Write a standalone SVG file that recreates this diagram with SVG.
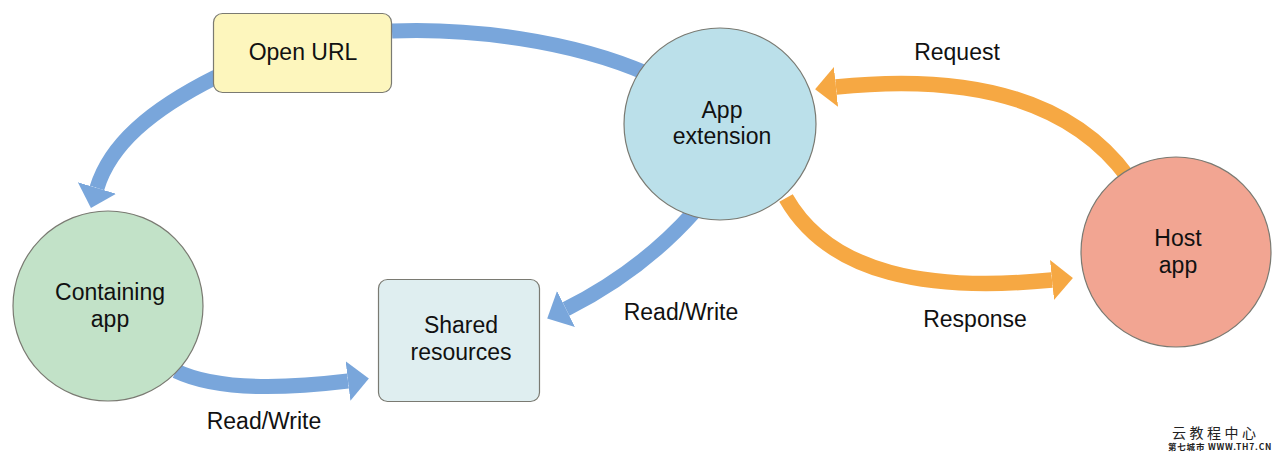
<svg xmlns="http://www.w3.org/2000/svg" width="1284" height="453" viewBox="0 0 1284 453">
<defs>
<style>
.lbl{font-family:"Liberation Sans",Arial,Helvetica,sans-serif;font-size:23px;fill:#111;text-anchor:middle}
.node{stroke:#7a7a72;stroke-width:1.2}
.blue{fill:none;stroke:#79a6db;stroke-width:15}
.orange{fill:none;stroke:#f6a843;stroke-width:15.5}
.wm{font-family:"Noto Sans CJK SC","Liberation Sans",sans-serif;fill:#222}
</style>
<marker id="ab" markerUnits="userSpaceOnUse" markerWidth="22" markerHeight="42" viewBox="0 -21 22 42" refX="0" refY="0" orient="auto">
<path d="M0,-20 L21,0 L0,20 Z" fill="#79a6db"/>
</marker>
<marker id="ao" markerUnits="userSpaceOnUse" markerWidth="22" markerHeight="42" viewBox="0 -21 22 42" refX="0" refY="0" orient="auto">
<path d="M0,-20 L21,0 L0,20 Z" fill="#f6a843"/>
</marker>
</defs>
<rect width="1284" height="453" fill="#ffffff"/>
<g id="connectors">
<path class="blue" d="M392 31 C470 28 570 40 648 74"/>
<path class="blue" d="M216 77 C150 110 110 145 97 188" marker-end="url(#ab)"/>
<path class="blue" d="M176 371 C220 392 290 388 348 381" marker-end="url(#ab)"/>
<path class="blue" d="M694 212 C660 250 620 282 566 309" marker-end="url(#ab)"/>
<path class="orange" d="M1128 177 C1075 105 980 72 836 87" marker-end="url(#ao)"/>
<path class="orange" d="M786 198 C830 275 930 292 1052 280" marker-end="url(#ao)"/>
</g>
<g id="open-url">
<rect class="node" x="213.5" y="13.5" width="178" height="79" rx="9" fill="#fdf6bd"/>
<text class="lbl" x="303" y="60">Open URL</text>
</g>
<g id="app-extension">
<circle class="node" cx="720" cy="124" r="96" fill="#bbe0ea"/>
<text class="lbl" x="722" y="118">App</text>
<text class="lbl" x="722" y="144">extension</text>
</g>
<g id="host-app">
<circle class="node" cx="1176" cy="252" r="95" fill="#f2a592"/>
<text class="lbl" x="1178" y="246">Host</text>
<text class="lbl" x="1178" y="273">app</text>
</g>
<g id="containing-app">
<circle class="node" cx="108" cy="306" r="95" fill="#c2e2c8"/>
<text class="lbl" x="110" y="300">Containing</text>
<text class="lbl" x="110" y="327">app</text>
</g>
<g id="shared-resources">
<rect class="node" x="378.5" y="279.5" width="161" height="122" rx="9" fill="#dfeef0"/>
<text class="lbl" x="461" y="333">Shared</text>
<text class="lbl" x="461" y="360">resources</text>
</g>
<g id="labels">
<text class="lbl" x="957" y="60">Request</text>
<text class="lbl" x="975" y="327">Response</text>
<text class="lbl" x="681" y="320">Read/Write</text>
<text class="lbl" x="264" y="429">Read/Write</text>
</g>
<g id="watermark">
<text class="wm" x="1172" y="438" font-size="14" letter-spacing="3.5">云教程中心</text>
<text class="wm" x="1168" y="450" font-size="8.5" font-weight="bold" letter-spacing="0.8">第七城市  WWW.TH7.CN</text>
</g>
</svg>
